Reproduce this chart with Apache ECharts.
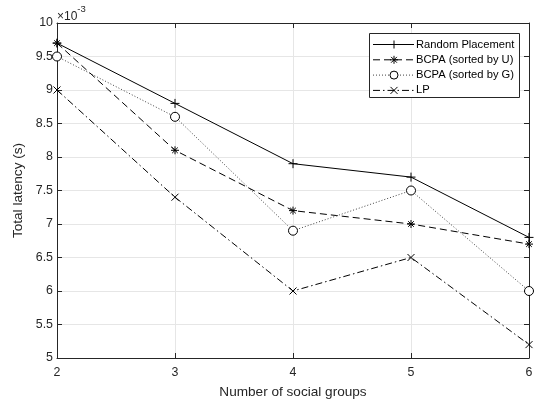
<!DOCTYPE html>
<html>
<head>
<meta charset="utf-8">
<script src="https://cdn.jsdelivr.net/npm/echarts@6/dist/echarts.min.js"></script>
<style>
  html, body { margin: 0; padding: 0; background: #fff; }
  #chart { width: 538px; height: 402px; }
</style>
</head>
<body>
<div id="chart"></div>
<script>
// Number of social groups
const groups = [2, 3, 4, 5, 6];
// Total latency, in units of 1e-3 s
const randomPlacement = [9.7, 8.8, 7.9, 7.7, 6.8];
const bcpaSortedU = [9.7, 8.1, 7.2, 7.0, 6.7];
const bcpaSortedG = [9.5, 8.6, 6.9, 7.5, 6.0];
const lpLatency = [9.0, 7.4, 6.0, 6.5, 5.2];
const seriesNames = ['Random Placement', 'BCPA (sorted by U)', 'BCPA (sorted by G)', 'LP'];

const FONT = 'Liberation Sans, Arial, sans-serif';
const INK = '#262626';

const plusPath = 'path://M5,0L5,10M0,5L10,5';
const crossPath = 'path://M0,0L10,10M10,0L0,10';
const starPath = 'path://M5,0L5,10M0,5L10,5M1.5,1.5L8.5,8.5M8.5,1.5L1.5,8.5';
const ringPath = 'path://M10,5A5,5,0,1,1,0,5A5,5,0,1,1,10,5Z';

// per-series styling: dash pattern, marker, marker size, line colour
const styles = [
  { dash: 'solid', marker: 'plus', symbol: plusPath, size: 9, color: '#000', fill: '#000' },
  { dash: [7, 4], marker: 'star', symbol: starPath, size: 8, color: '#000', fill: '#000' },
  { dash: [1, 2], marker: 'circle', symbol: ringPath, size: 9, color: '#444', fill: '#fff' },
  { dash: [7, 3, 1.5, 3], marker: 'cross', symbol: crossPath, size: 7, color: '#000', fill: '#000' }
];
const seriesValues = [randomPlacement, bcpaSortedU, bcpaSortedG, lpLatency];

function pairs(values) {
  return groups.map((g, i) => [g, values[i]]);
}

function makeSeries(name, values, st) {
  return {
    name: name,
    type: 'line',
    data: pairs(values),
    symbol: st.symbol,
    symbolSize: st.size,
    showAllSymbol: true,
    lineStyle: { color: st.color, width: 1, type: st.dash },
    itemStyle: { color: st.fill, borderColor: '#000', borderWidth: 1 },
    emphasis: { disabled: true },
    animation: false
  };
}

// Hand-built legend box, drawn as graphic elements
function markerShapes(kind, cx, cy) {
  const r = 4;
  const seg = (x1, y1, x2, y2) => ({
    type: 'line',
    shape: { x1: x1, y1: y1, x2: x2, y2: y2 },
    style: { stroke: '#000', lineWidth: 1 }
  });
  if (kind === 'plus') return [seg(cx - r, cy, cx + r, cy), seg(cx, cy - r, cx, cy + r)];
  if (kind === 'cross') return [seg(cx - 3.5, cy - 3.5, cx + 3.5, cy + 3.5), seg(cx - 3.5, cy + 3.5, cx + 3.5, cy - 3.5)];
  if (kind === 'star') {
    const d = 2.9;
    return [seg(cx - r, cy, cx + r, cy), seg(cx, cy - r, cx, cy + r),
            seg(cx - d, cy - d, cx + d, cy + d), seg(cx - d, cy + d, cx + d, cy - d)];
  }
  return [{ type: 'circle', shape: { cx: cx, cy: cy, r: 4 }, style: { fill: '#fff', stroke: '#000', lineWidth: 1 } }];
}

function legendGraphics() {
  const box = { x: 369.5, y: 33.5, w: 150, h: 64 };
  const items = [{
    type: 'rect',
    shape: { x: box.x, y: box.y, width: box.w, height: box.h },
    style: { fill: '#fff', stroke: '#262626', lineWidth: 1 },
    z: 100
  }];
  seriesNames.forEach((name, i) => {
    const st = styles[i];
    const cy = 44.5 + 15.3 * i;
    items.push({
      type: 'line',
      shape: { x1: 373, y1: cy, x2: 414, y2: cy },
      style: { stroke: st.color, lineWidth: 1, lineDash: st.dash === 'solid' ? null : st.dash },
      z: 101
    });
    markerShapes(st.marker, 394, cy).forEach(m => { m.z = 102; items.push(m); });
    items.push({
      type: 'text',
      x: 416, y: cy,
      style: { text: name, fill: '#000', font: '11.2px ' + FONT, verticalAlign: 'middle', align: 'left' },
      z: 102
    });
  });
  return items;
}

const chart = echarts.init(document.getElementById('chart'), null, { renderer: 'canvas' });

const gridLine = { show: true, lineStyle: { color: '#e6e6e6', width: 1 } };
const tickStyle = { show: true, inside: true, length: 5, lineStyle: { color: INK } };

chart.setOption({
  backgroundColor: '#fff',
  animation: false,
  textStyle: { fontFamily: FONT },
  grid: { left: 57, right: 9, top: 23, bottom: 44, containLabel: false, outerBoundsMode: 'none' },
  xAxis: [
    {
      type: 'value', min: 2, max: 6, interval: 1,
      name: 'Number of social groups', nameLocation: 'middle', nameGap: 27,
      nameTextStyle: { fontSize: 13.6, color: INK, fontFamily: FONT },
      axisLine: { show: true, lineStyle: { color: INK, width: 1 } },
      axisTick: tickStyle,
      axisLabel: { fontSize: 12.4, color: INK, margin: 8.5, fontFamily: FONT },
      splitLine: gridLine
    },
    {
      type: 'value', position: 'top', min: 2, max: 6, interval: 1,
      axisLine: { show: true, lineStyle: { color: INK, width: 1 } },
      axisTick: tickStyle,
      axisLabel: { show: false },
      splitLine: { show: false }
    }
  ],
  yAxis: [
    {
      type: 'value', min: 5, max: 10, interval: 0.5,
      name: 'Total latency (s)', nameLocation: 'middle', nameGap: 25, nameRotate: 90,
      nameTextStyle: { fontSize: 13.6, color: INK, fontFamily: FONT },
      axisLine: { show: true, lineStyle: { color: INK, width: 1 } },
      axisTick: tickStyle,
      axisLabel: { fontSize: 12.4, color: INK, margin: 4, fontFamily: FONT, formatter: v => String(v) },
      splitLine: gridLine
    },
    {
      type: 'value', position: 'right', min: 5, max: 10, interval: 0.5,
      axisLine: { show: true, lineStyle: { color: INK, width: 1 } },
      axisTick: tickStyle,
      axisLabel: { show: false },
      splitLine: { show: false }
    }
  ],
  graphic: [
    {
      type: 'text',
      left: 57,
      top: 4,
      style: {
        text: '{t|×10}{e|-3}',
        fill: INK,
        rich: {
          t: { fontSize: 12, fontFamily: FONT, fill: INK, verticalAlign: 'bottom', padding: [7, 0, 0, 0] },
          e: { fontSize: 9.5, fontFamily: FONT, fill: INK, verticalAlign: 'top', padding: [0, 0, 5, 0] }
        }
      }
    }
  ].concat(legendGraphics()),
  series: seriesNames.map((n, i) => makeSeries(n, seriesValues[i], styles[i]))
});
</script>
</body>
</html>
